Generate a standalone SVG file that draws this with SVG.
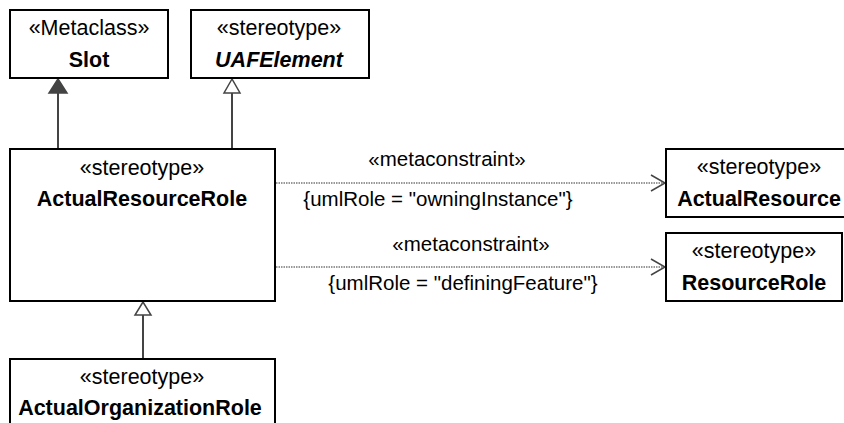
<svg xmlns="http://www.w3.org/2000/svg" width="844" height="423" viewBox="0 0 844 423">
<style>
.box{fill:#fff;stroke:#000;stroke-width:2}
.t{font-family:"Liberation Sans",Arial,sans-serif;font-size:21.5px;fill:#000;text-anchor:middle}
.l{font-family:"Liberation Sans",Arial,sans-serif;font-size:20.5px;fill:#000;text-anchor:middle}
.b{font-weight:bold}
.i{font-style:italic}
.gen{stroke:#444;stroke-width:2;fill:none}
.dep{stroke:#777;stroke-width:1.5;stroke-dasharray:1.5 1;fill:none}
.chev{stroke:#444;stroke-width:1.5;fill:none}
</style>
<rect width="844" height="423" fill="#fff"/>
<g id="connectors">
  <line class="gen" x1="58" y1="93" x2="58" y2="148"/>
  <polygon points="58,79 49,93 67,93" fill="#444" stroke="#444" stroke-width="1.5"/>
  <line class="gen" x1="232" y1="93" x2="232" y2="148"/>
  <polygon points="232,79 224,93 240,93" fill="#fff" stroke="#444" stroke-width="1.5"/>
  <line class="gen" x1="143" y1="315" x2="143" y2="358"/>
  <polygon points="143,302 135,315 151,315" fill="#fff" stroke="#444" stroke-width="1.5"/>
  <line class="dep" x1="276" y1="183" x2="664" y2="183"/>
  <polyline class="chev" points="651,175 665,183 651,191"/>
  <line class="dep" x1="276" y1="267" x2="664" y2="267"/>
  <polyline class="chev" points="651,259 665,267 651,275"/>
  <text class="l" x="447" y="166">«metaconstraint»</text>
  <text class="l" x="438" y="206">{umlRole = "owningInstance"}</text>
  <text class="l" x="471" y="251">«metaconstraint»</text>
  <text class="l" x="463" y="290">{umlRole = "definingFeature"}</text>
</g>
<g id="Slot">
  <rect class="box" x="10" y="10" width="158" height="68"/>
  <text class="t" x="89" y="35">«Metaclass»</text>
  <text class="t b" x="89" y="67">Slot</text>
</g>
<g id="UAFElement">
  <rect class="box" x="191" y="10" width="178" height="68"/>
  <text class="t" x="279" y="35">«stereotype»</text>
  <text class="t b i" x="279" y="67">UAFElement</text>
</g>
<g id="ActualResourceRole">
  <rect class="box" x="10" y="149" width="265" height="152"/>
  <text class="t" x="142" y="175">«stereotype»</text>
  <text class="t b" x="142" y="206">ActualResourceRole</text>
</g>
<g id="ActualOrganizationRole">
  <rect class="box" x="10" y="359" width="265" height="80"/>
  <text class="t" x="142" y="384">«stereotype»</text>
  <text class="t b" x="140" y="415">ActualOrganizationRole</text>
</g>
<g id="ActualResource">
  <rect class="box" x="666" y="149" width="188" height="68"/>
  <text class="t" x="759" y="174">«stereotype»</text>
  <text class="t b" x="759" y="206">ActualResource</text>
</g>
<g id="ResourceRole">
  <rect class="box" x="666" y="233" width="176" height="68"/>
  <text class="t" x="754" y="258">«stereotype»</text>
  <text class="t b" x="754" y="290">ResourceRole</text>
</g>
</svg>
